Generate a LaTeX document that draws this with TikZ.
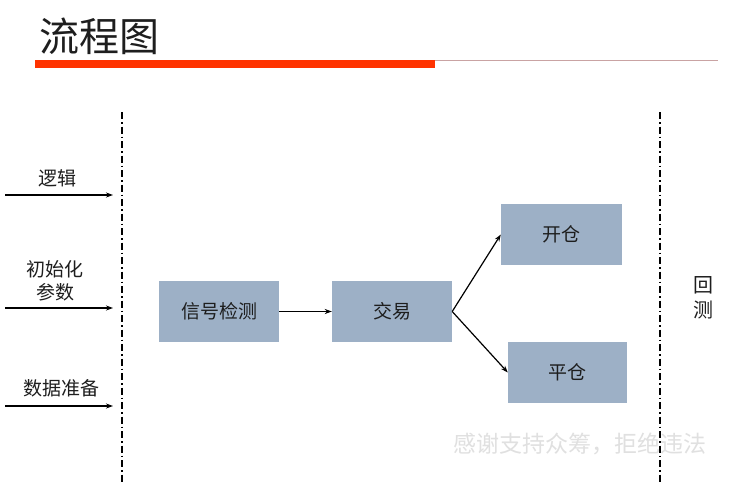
\documentclass[tikz,border=0pt]{standalone}
\usepackage{fontspec}
\newfontfamily\cjk{Noto Sans CJK SC}
\usetikzlibrary{arrows.meta}
\definecolor{boxfill}{HTML}{9DB0C6}
\definecolor{barred}{HTML}{FF3300}
\definecolor{rulepink}{HTML}{C9A3A3}
\definecolor{txt}{HTML}{1E1E1E}
\begin{document}
\begin{tikzpicture}[x=1pt,y=-1pt,
  stepbox/.style={draw=none,fill=boxfill,minimum width=120pt,minimum height=61pt,
    inner sep=0pt,font=\cjk\fontsize{19}{21}\selectfont,text=txt},
  lbl/.style={font=\cjk\fontsize{19}{23}\selectfont,text=txt,align=center,inner sep=0pt},
  arr/.style={line width=1.2pt,-{Stealth[length=7pt,width=5pt]}},
  sep/.style={line width=1.6pt,dash pattern=on 7pt off 3pt on 1.5pt off 3pt}]
\useasboundingbox (0,0) rectangle (735,482);
\fill[white] (0,0) rectangle (735,482);

% title and header rules
\node[anchor=west,inner sep=0pt,font=\cjk\fontsize{40}{44}\selectfont,text=txt] (title) at (39,36) {流程图};
\fill[barred] (35,60) rectangle (435,68);
\draw[rulepink,line width=0.8pt] (435,60.5) -- (718,60.5);

% dash-dot separators
\draw[sep] (122,112) -- (122,482);
\draw[sep] (660,112) -- (660,482);

% inputs on the left
\coordinate (l1s) at (5,195);   \coordinate (l1e) at (113,195);
\coordinate (l2s) at (5,308);   \coordinate (l2e) at (113,308);
\coordinate (l3s) at (5,406);   \coordinate (l3e) at (113,406);
\draw[arr] (l1s) -- (l1e);
\draw[arr] (l2s) -- (l2e);
\draw[arr] (l3s) -- (l3e);
\node[lbl] (logic) at (57,178) {逻辑};
\node[lbl] (init) at (55,281) {初始化\\参数};
\node[lbl] (data) at (61,388) {数据准备};

% process boxes
\node[stepbox] (signal) at (219,311.5) {信号检测};
\node[stepbox] (trade) at (392,311.5) {交易};
\node[stepbox,minimum width=121pt] (open) at (561.5,234.5) {开仓};
\node[stepbox,minimum width=119pt] (close) at (567.5,372.5) {平仓};

\draw[arr] (signal) -- (trade);
\coordinate (split) at (trade.east);
\draw[arr] (split) -- (open.west);
\draw[arr] (split) -- (close.west);

% backtest label
\node[lbl,font=\cjk\fontsize{20}{25}\selectfont] (bt) at (703,298) {回\\测};

% faint notice
\node[anchor=west,inner sep=0pt,font=\cjk\fontsize{23}{25}\selectfont,text=black!12] (note) at (453,444) {感谢支持众筹，拒绝违法};
\end{tikzpicture}
\end{document}
